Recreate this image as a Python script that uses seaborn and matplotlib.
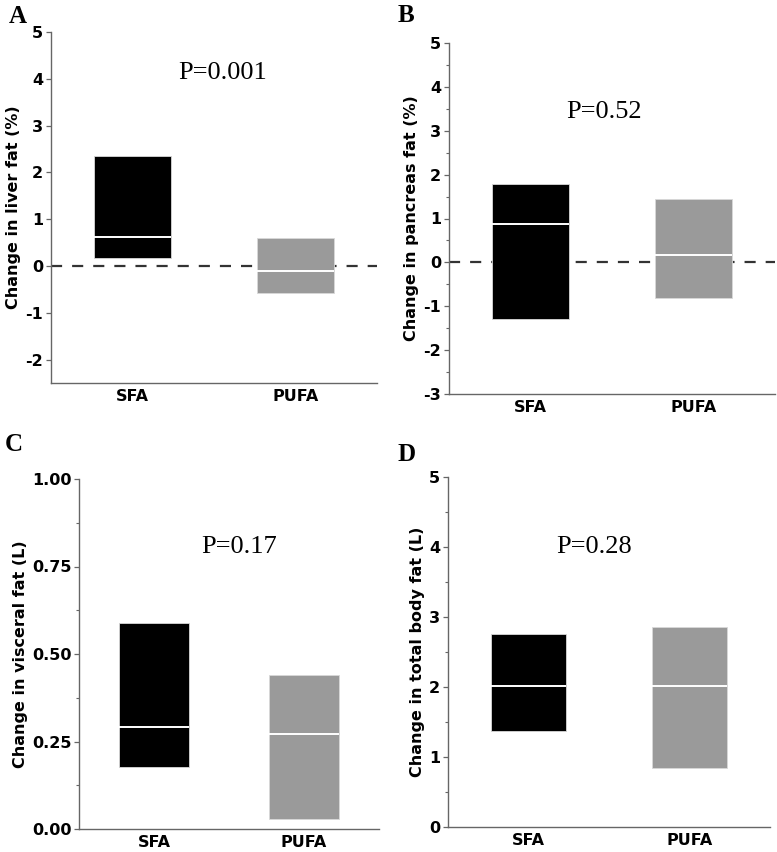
import numpy as np
import pandas as pd
import matplotlib
matplotlib.use("Agg")
import matplotlib.pyplot as plt
from matplotlib.ticker import MultipleLocator, FormatStrFormatter
import seaborn as sns

groups = ["SFA", "PUFA"]
bar_colors = ["#000000", "#9a9a9a"]

liver_low = [0.17, -0.58]
liver_median = [0.62, -0.11]
liver_high = [2.35, 0.59]

pancreas_low = [-1.29, -0.81]
pancreas_median = [0.87, 0.17]
pancreas_high = [1.79, 1.44]

visceral_low = [0.176, 0.028]
visceral_median = [0.292, 0.271]
visceral_high = [0.588, 0.440]

body_low = [1.37, 0.84]
body_median = [2.02, 2.02]
body_high = [2.75, 2.86]

p_labels = ["P=0.001", "P=0.52", "P=0.17", "P=0.28"]
panel_letters = ["A", "B", "C", "D"]
ylabels = ["Change in liver fat (%)", "Change in pancreas fat (%)",
           "Change in visceral fat (L)", "Change in total body fat (L)"]

sns.set_style("ticks")
plt.rcParams["font.family"] = ["DejaVu Sans"]
plt.rcParams["font.weight"] = "bold"
plt.rcParams["axes.unicode_minus"] = False
plt.rcParams["text.color"] = "black"
plt.rcParams["axes.labelcolor"] = "black"
plt.rcParams["xtick.labelcolor"] = "black"
plt.rcParams["ytick.labelcolor"] = "black"

fig = plt.figure(figsize=(7.77, 8.52), dpi=100)

# left, bottom, width, height (figure fractions)
rects = [
    [51 / 777, 1 - 383 / 852, 326 / 777, 351 / 852],
    [449 / 777, 1 - 394 / 852, 326 / 777, 351 / 852],
    [79 / 777, 1 - 829 / 852, 300 / 777, 350 / 852],
    [448 / 777, 1 - 827 / 852, 322 / 777, 350 / 852],
]
panels = [
    (liver_low, liver_median, liver_high),
    (pancreas_low, pancreas_median, pancreas_high),
    (visceral_low, visceral_median, visceral_high),
    (body_low, body_median, body_high),
]
ylims = [(-2.5, 5), (-3, 5), (0, 1), (0, 5)]
majors = [1, 1, 0.25, 1]
minors = [None, 0.5, 0.125, 0.5]
zero_line = [True, True, False, False]
p_pos = [(0.525, 0.883), (0.475, 0.803), (0.533, 0.806), (0.453, 0.80)]
letter_pos = [(9, 5), (398, 4), (5, 433), (397, 443)]
bar_w = 0.47

for k in range(4):
    ax = fig.add_axes(rects[k])
    low, med, high = panels[k]
    df = pd.DataFrame({"group": groups, "low": low, "median": med, "high": high})
    df["span"] = df["high"] - df["low"]
    for i, row in df.iterrows():
        sns.barplot(x=[row["group"]], y=[row["span"]], order=groups,
                    bottom=row["low"], color=bar_colors[i], saturation=1,
                    edgecolor="#d8d8d8", linewidth=0.6, width=bar_w,
                    errorbar=None, ax=ax, zorder=2)
    pos = np.arange(len(groups))
    ax.hlines(df["median"], pos - bar_w / 2, pos + bar_w / 2, color="white",
              lw=1.4, zorder=3)
    if zero_line[k]:
        ax.axhline(0, color="#333333", lw=1.6, ls=(0, (5, 4.5)), zorder=1)
    ax.set_xlim(-0.5, 1.5)
    ax.set_ylim(*ylims[k])
    ax.yaxis.set_major_locator(MultipleLocator(majors[k]))
    if minors[k]:
        ax.yaxis.set_minor_locator(MultipleLocator(minors[k]))
    if k == 2:
        ax.yaxis.set_major_formatter(FormatStrFormatter("%.2f"))
    for s in ["top", "right"]:
        ax.spines[s].set_visible(False)
    for s in ["left", "bottom"]:
        ax.spines[s].set_color("#666666")
        ax.spines[s].set_linewidth(1.0)
    ax.tick_params(axis="x", length=0, labelsize=11.5, pad=4, labelcolor="black")
    ax.tick_params(axis="y", which="major", length=3.5, width=0.9,
                   color="#666666", labelsize=11.5, pad=2, labelcolor="black")
    ax.tick_params(axis="y", which="minor", length=2, width=0.8, color="#666666")
    for lab in ax.get_xticklabels() + ax.get_yticklabels():
        lab.set_fontweight("bold")
    ax.set_xlabel("")
    ax.set_ylabel(ylabels[k], fontsize=11.5, fontweight="bold", labelpad=3,
                  color="black")
    ax.text(p_pos[k][0], p_pos[k][1], p_labels[k], transform=ax.transAxes,
            ha="center", va="center", fontsize=19, fontweight="normal",
            family="Liberation Serif", color="black")
    fig.text(letter_pos[k][0] / 777, 1 - letter_pos[k][1] / 852, panel_letters[k],
             ha="left", va="top", fontsize=18, fontweight="bold",
             family="Liberation Serif", color="black")

fig.savefig("out.png", dpi=100)
